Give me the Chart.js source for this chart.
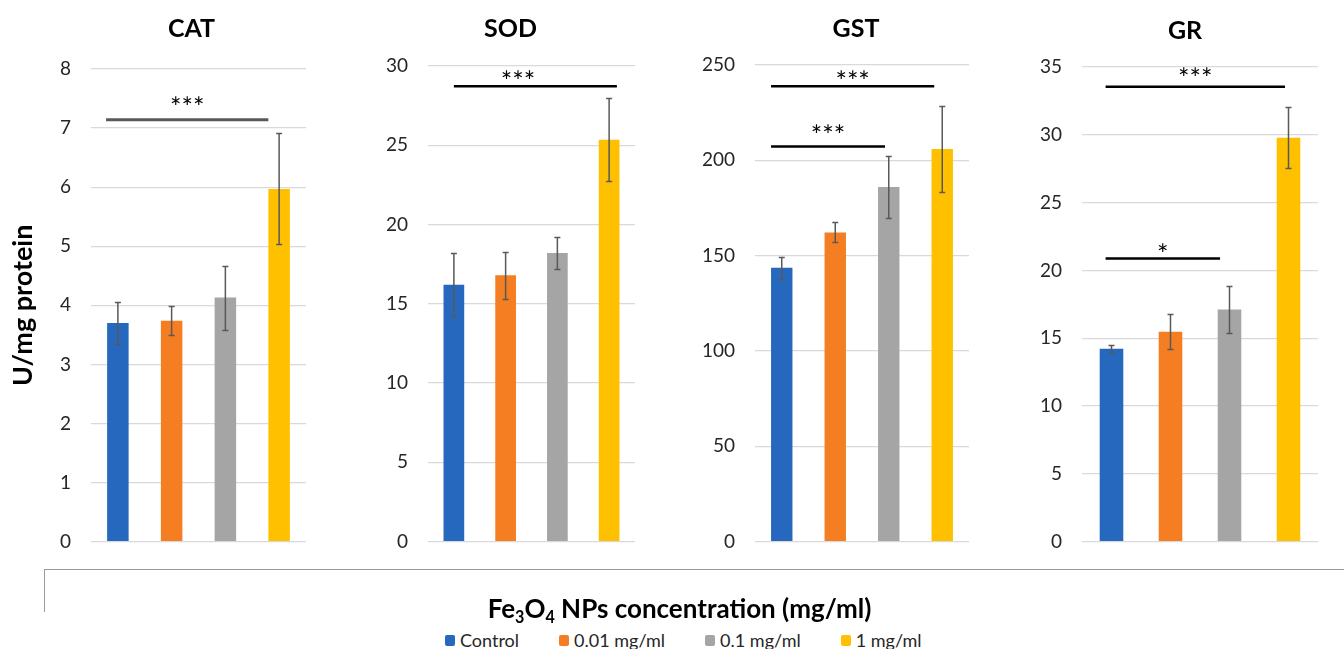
<!DOCTYPE html>
<html>
<head>
<meta charset="utf-8">
<script src="https://cdn.jsdelivr.net/npm/chart.js@4.4.1/dist/chart.umd.min.js"></script>
<style>
  body { margin: 0; width: 1344px; height: 649px; background: #fff; overflow: hidden; position: relative; font-family: Lato, sans-serif; }
  canvas { position: absolute; top: 0; }
  #frame { position: absolute; left: 44px; top: 569px; width: 1310px; height: 42px; border-top: 1.5px solid #9a9a9a; border-left: 1.5px solid #9a9a9a; }
  #xtitle { position: absolute; left: 0; top: 593px; width: 1359px; text-align: center; font-weight: bold; font-size: 26px; line-height: 30px; color: #000; }
  #xtitle .sub { font-size: 0.62em; position: relative; top: 0.32em; }
  #legend { position: absolute; left: 445px; top: 630px; display: flex; font-size: 18px; line-height: 20px; color: #262626; }
  #legend .item { display: flex; align-items: center; margin-right: 40px; }
  #legend .box { width: 10px; height: 11px; border-radius: 2px; margin-right: 5px; }
</style>
</head>
<body>
<canvas id="cat" width="320" height="573" style="left:0px"></canvas>
<canvas id="sod" width="290" height="573" style="left:360px"></canvas>
<canvas id="gst" width="295" height="573" style="left:690px"></canvas>
<canvas id="gr" width="325" height="573" style="left:1010px"></canvas>
<div id="frame"></div>
<div id="xtitle">Fe<span class="sub">3</span>O<span class="sub">4</span> NPs concentration (mg/ml)</div>
<div id="legend"></div>
<script>
// groups and colours
const categories = ['Control', '0.01 mg/ml', '0.1 mg/ml', '1 mg/ml'];
const barColors = ['#2568BE', '#F47E21', '#A5A5A5', '#FFC000'];

// CAT
const catValues = [3.70, 3.74, 4.13, 5.97];
const catErrors = [0.35, 0.25, 0.54, 0.94];
const catTicks = [0, 8, 1];
const catSig = [{ from: -0.22, to: 2.8, y: 7.14, text: '***', textY: 7.44 }];

// SOD
const sodValues = [16.2, 16.8, 18.2, 25.35];
const sodErrors = [2.0, 1.47, 1.03, 2.6];
const sodTicks = [0, 30, 5];
const sodSig = [{ from: 0, to: 3.15, y: 28.72, text: '***', textY: 29.37, textAt: 1.24 }];

// GST
const gstValues = [143.6, 162.2, 186.0, 205.9];
const gstErrors = [5.6, 5.3, 16.2, 22.4];
const gstTicks = [0, 250, 50];
const gstSig = [
  { from: -0.2, to: 2.85, y: 238.9, text: '***', textY: 244.4 },
  { from: -0.2, to: 1.93, y: 207.2, text: '***', textY: 215.7 }
];

// GR
const grValues = [14.23, 15.47, 17.11, 29.78];
const grErrors = [0.24, 1.3, 1.75, 2.26];
const grTicks = [0, 35, 5];
const grSig = [
  { from: -0.1, to: 2.94, y: 33.55, text: '***', textY: 34.58 },
  { from: -0.1, to: 1.84, y: 20.87, text: '*', textY: 21.6 }
];

// error bars, significance bars and panel titles
const extras = {
  id: 'extras',
  afterDatasetsDraw(chart, args, opts) {
    const ctx = chart.ctx;
    const xs = chart.scales.x, ys = chart.scales.y;
    const meta = chart.getDatasetMeta(0);
    ctx.save();
    ctx.strokeStyle = '#595959';
    ctx.lineWidth = 1.5;
    meta.data.forEach((bar, i) => {
      const v = opts.values[i], e = opts.errors[i];
      const top = Math.round(ys.getPixelForValue(v + e)) + 0.5;
      const bot = Math.round(ys.getPixelForValue(v - e)) + 0.5;
      ctx.beginPath();
      ctx.moveTo(bar.x, top); ctx.lineTo(bar.x, bot);
      ctx.moveTo(bar.x - 3, top); ctx.lineTo(bar.x + 3, top);
      ctx.moveTo(bar.x - 3, bot); ctx.lineTo(bar.x + 3, bot);
      ctx.stroke();
    });

    opts.sig.forEach(s => {
      const x0 = xs.getPixelForValue(s.from), x1 = xs.getPixelForValue(s.to);
      const yy = ys.getPixelForValue(s.y);
      ctx.strokeStyle = opts.sigColor;
      ctx.lineWidth = opts.sigWidth;
      ctx.beginPath();
      ctx.moveTo(x0, yy); ctx.lineTo(x1, yy);
      ctx.stroke();
      ctx.fillStyle = '#000';
      ctx.font = '27px Lato';
      ctx.textAlign = 'center';
      ctx.textBaseline = 'alphabetic';
      const tx = s.textAt !== undefined ? xs.getPixelForValue(s.textAt) : (x0 + x1) / 2;
      ctx.fillText(s.text, tx, ys.getPixelForValue(s.textY) + 15);
    });

    const area = chart.chartArea;
    ctx.fillStyle = '#000';
    ctx.font = 'bold 25px Lato';
    ctx.textAlign = 'center';
    ctx.textBaseline = 'middle';
    ctx.fillText(opts.title, (area.left + area.right) / 2 + opts.titleDx, opts.titleY);
    ctx.restore();
  }
};

function makePanel(id, title, values, errors, ticks, sig, layout) {
  return new Chart(document.getElementById(id), {
    type: 'bar',
    data: {
      labels: categories,
      datasets: [{
        data: values,
        backgroundColor: barColors,
        barPercentage: 0.4,
        categoryPercentage: 1
      }]
    },
    options: {
      responsive: false,
      maintainAspectRatio: false,
      animation: false,
      layout: { padding: { top: layout.top, bottom: 6, left: 0, right: layout.right } },
      plugins: {
        legend: { display: false },
        tooltip: { enabled: false },
        extras: {
          values: values, errors: errors, sig: sig, title: title,
          titleDx: layout.titleDx, titleY: layout.titleY,
          sigColor: layout.sigColor, sigWidth: layout.sigWidth
        }
      },
      scales: {
        x: { display: false },
        y: {
          min: ticks[0],
          max: ticks[1],
          ticks: { stepSize: ticks[2], padding: 20, color: '#262626', font: { family: 'Lato', size: 19 } },
          grid: { color: '#d9d9d9', lineWidth: 1.3, drawTicks: false },
          border: { display: false },
          title: {
            display: !!layout.yTitle,
            text: layout.yTitle || '',
            color: '#000',
            font: { family: 'Lato', size: 27, weight: 'bold' },
            padding: { top: 7, bottom: 0 }
          },
          afterFit: (axis) => { axis.width = layout.axisWidth; }
        }
      }
    },
    plugins: [extras]
  });
}

makePanel('cat', 'CAT', catValues, catErrors, catTicks, catSig,
  { top: 69, right: 14, axisWidth: 91, titleDx: -7, titleY: 29, sigColor: '#595959', sigWidth: 3, yTitle: 'U/mg protein' });
makePanel('sod', 'SOD', sodValues, sodErrors, sodTicks, sodSig,
  { top: 66, right: 15, axisWidth: 68, titleDx: -21, titleY: 29, sigColor: '#000', sigWidth: 2.5 });
makePanel('gst', 'GST', gstValues, gstErrors, gstTicks, gstSig,
  { top: 65, right: 16, axisWidth: 65, titleDx: -6, titleY: 29, sigColor: '#000', sigWidth: 2.5 });
makePanel('gr', 'GR', grValues, grErrors, grTicks, grSig,
  { top: 67, right: 17, axisWidth: 72, titleDx: -15, titleY: 31, sigColor: '#000', sigWidth: 2.5 });

// shared legend
const legend = document.getElementById('legend');
categories.forEach((c, i) => {
  const item = document.createElement('div');
  item.className = 'item';
  const box = document.createElement('span');
  box.className = 'box';
  box.style.background = barColors[i];
  const label = document.createElement('span');
  label.textContent = c;
  item.appendChild(box);
  item.appendChild(label);
  legend.appendChild(item);
});
</script>
</body>
</html>
